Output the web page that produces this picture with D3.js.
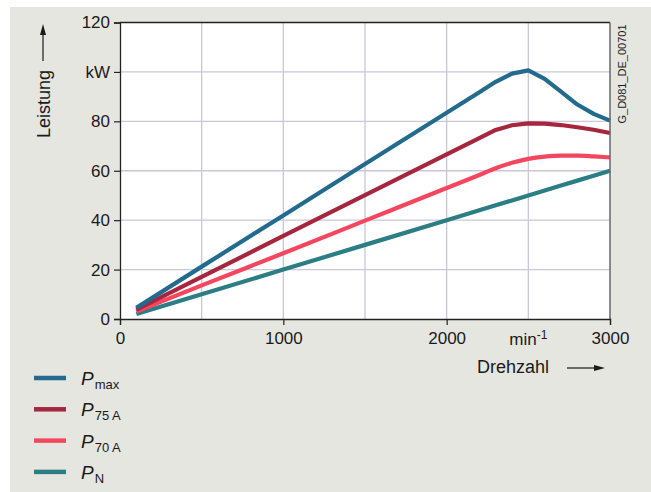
<!DOCTYPE html>
<html><head><meta charset="utf-8">
<script src="https://cdn.jsdelivr.net/npm/d3@7"></script>
<style>body{margin:0;background:#fff}svg{display:block;font-family:"Liberation Sans",Arial,sans-serif}</style>
</head><body><svg id="c" width="651" height="492"></svg>
<script>
const rpm = [100, 500, 1000, 1500, 2000, 2200, 2300, 2400, 2500, 2600, 2700, 2800, 2900, 3000];
const pMax = [4.5, 21.2, 41.9, 62.7, 83.5, 91.8, 96.0, 99.3, 100.6, 97.2, 92.0, 86.8, 83.0, 80.3];
const p75A = [3.8, 17.0, 33.6, 50.1, 66.6, 73.2, 76.5, 78.4, 79.2, 79.1, 78.5, 77.6, 76.6, 75.3];
const p70A = [3.0, 13.6, 26.6, 39.8, 53.0, 58.3, 61.0, 63.2, 64.8, 65.7, 66.1, 66.1, 65.8, 65.4];
const pN   = [2.0, 10.0, 20.0, 30.0, 40.0, 44.0, 46.0, 48.0, 50.0, 52.0, 54.0, 56.0, 58.0, 60.0];
const seriesNames = [["P","max"],["P","75 A"],["P","70 A"],["P","N"]];
const seriesColors = ["#236b8e", "#a6263e", "#f4475f", "#2a7e84"];
const yTicks = [0, 20, 40, 60, 80, 100, 120];
const yTickLabels = ["0", "20", "40", "60", "80", "kW", "120"];
const xTicks = [0, 1000, 2000, 3000];
const xTickLabels = ["0", "1000", "2000", "3000"];

const svg = d3.select("#c");
svg.append("rect").attr("x",10).attr("y",7).attr("width",641).attr("height",485).attr("fill","#e6e6e1");

const x = d3.scaleLinear().domain([0,3000]).range([120,610]);
const y = d3.scaleLinear().domain([0,120]).range([319,22.5]);

svg.append("rect").attr("x",x(0)).attr("y",y(120)).attr("width",x(3000)-x(0)).attr("height",y(0)-y(120)).attr("fill","#fff");

// grid
const g = svg.append("g");
d3.range(500,3000,500).forEach(v=>{
  g.append("line").attr("x1",x(v)).attr("x2",x(v)).attr("y1",y(0)).attr("y2",y(120)).attr("stroke","#c9c7d8").attr("stroke-width",1.3);
});
d3.range(20,120,20).forEach(v=>{
  g.append("line").attr("x1",x(0)).attr("x2",x(3000)).attr("y1",y(v)).attr("y2",y(v)).attr("stroke","#c9c7d8").attr("stroke-width",1.3);
});

// lines
const curves = [d3.curveLinear, d3.curveLinear, d3.curveMonotoneX, d3.curveLinear];
const allSeries = [pMax, p75A, p70A, pN];
[3,2,1,0].forEach(i=>{
  const line = d3.line().x(d=>x(d[0])).y(d=>y(d[1])).curve(curves[i]);
  svg.append("path").datum(rpm.map((r,j)=>[r,allSeries[i][j]]))
    .attr("d",line).attr("fill","none").attr("stroke",seriesColors[i]).attr("stroke-width",4.2).attr("stroke-linejoin","round");
});

// frame
svg.append("line").attr("x1",x(0)).attr("x2",x(3000)).attr("y1",y(120)).attr("y2",y(120)).attr("stroke","#222").attr("stroke-width",1.3);
svg.append("line").attr("x1",x(3000)).attr("x2",x(3000)).attr("y1",y(120)).attr("y2",y(0)).attr("stroke","#666").attr("stroke-width",1.5);

// y axis
const ya = svg.append("g").attr("transform",`translate(${x(0)},0)`)
  .call(d3.axisLeft(y).tickValues(yTicks).tickFormat((d,i)=>yTickLabels[i]).tickSize(6).tickPadding(4));
ya.select(".domain").attr("stroke","#222").attr("stroke-width",1.3);
ya.selectAll(".tick line").attr("stroke","#222").attr("stroke-width",1.2);
ya.selectAll(".tick text").attr("font-size",17).attr("fill","#1a1a1a").attr("font-family","Liberation Sans, Arial, sans-serif");

// x axis
const xa = svg.append("g").attr("transform",`translate(0,${y(0)})`)
  .call(d3.axisBottom(x).tickValues(xTicks).tickFormat((d,i)=>xTickLabels[i]).tickSize(6).tickPadding(7));
xa.select(".domain").attr("stroke","#222").attr("stroke-width",1.3);
xa.selectAll(".tick line").attr("stroke","#222").attr("stroke-width",1.2);
xa.selectAll(".tick text").attr("font-size",17).attr("fill","#1a1a1a").attr("font-family","Liberation Sans, Arial, sans-serif");

// min-1 label
const mt = svg.append("text").attr("x",x(2500)).attr("y",345).attr("text-anchor","middle").attr("font-size",17).attr("fill","#1a1a1a");
mt.append("tspan").text("min");
mt.append("tspan").text("-1").attr("font-size",12).attr("dy",-6);

// x title
svg.append("text").attr("x",477).attr("y",373).attr("font-size",18).attr("fill","#1a1a1a").text("Drehzahl");
svg.append("line").attr("x1",567).attr("x2",596).attr("y1",368).attr("y2",368).attr("stroke","#1a1a1a").attr("stroke-width",1.2);
svg.append("path").attr("d","M594,365 L605,368 L594,371 Z").attr("fill","#1a1a1a");

// y title
svg.append("text").attr("transform","translate(50,104) rotate(-90)").attr("text-anchor","middle").attr("font-size",18).attr("fill","#1a1a1a").text("Leistung");
svg.append("line").attr("x1",43).attr("x2",43).attr("y1",61).attr("y2",33).attr("stroke","#1a1a1a").attr("stroke-width",1.2);
svg.append("path").attr("d","M40,35 L43,24 L46,35 Z").attr("fill","#1a1a1a");

// doc id
svg.append("text").attr("transform","translate(626,74) rotate(-90)").attr("text-anchor","middle").attr("font-size",11).attr("fill","#1a1a1a").text("G_D081_DE_00701");

// legend
seriesNames.forEach((n,i)=>{
  const ly = 378 + i*31.3;
  svg.append("line").attr("x1",34).attr("x2",66).attr("y1",ly).attr("y2",ly).attr("stroke",seriesColors[i]).attr("stroke-width",4.5);
  const t = svg.append("text").attr("x",81).attr("y",ly+7).attr("font-size",19).attr("fill","#1a1a1a");
  t.append("tspan").text(n[0]).attr("font-style","italic");
  t.append("tspan").text(n[1]).attr("font-size",13).attr("dy",4).attr("dx",1);
});
</script></body></html>
